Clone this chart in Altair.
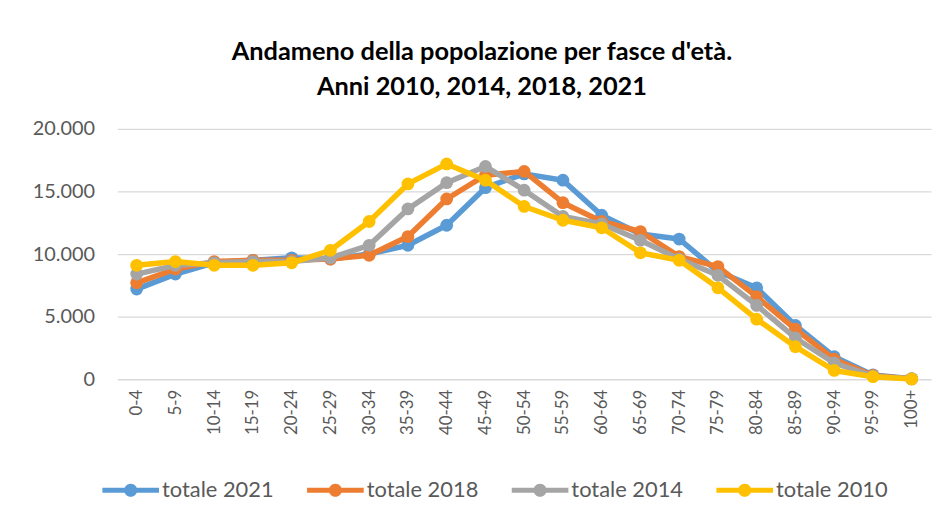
import altair as alt
import pandas as pd

ages = ["0-4", "5-9", "10-14", "15-19", "20-24", "25-29", "30-34", "35-39", "40-44",
        "45-49", "50-54", "55-59", "60-64", "65-69", "70-74", "75-79", "80-84",
        "85-89", "90-94", "95-99", "100+"]

t2021 = [7200, 8400, 9300, 9500, 9700, 9600, 10000, 10700, 12300, 15300, 16400,
         15900, 13100, 11600, 11200, 8600, 7300, 4300, 1800, 350, 40]
t2018 = [7700, 8800, 9400, 9500, 9500, 9600, 9900, 11400, 14400, 16300, 16600,
         14100, 12600, 11800, 9800, 9000, 6600, 4000, 1600, 300, 30]
t2014 = [8400, 9100, 9300, 9400, 9400, 9700, 10700, 13600, 15700, 17000, 15100,
         13000, 12400, 11100, 9600, 8300, 5900, 3300, 1300, 250, 30]
t2010 = [9100, 9400, 9100, 9100, 9300, 10300, 12600, 15600, 17200, 15900, 13800,
         12700, 12100, 10100, 9500, 7300, 4800, 2600, 700, 200, 20]

series_names = ["totale 2021", "totale 2018", "totale 2014", "totale 2010"]
series_values = [t2021, t2018, t2014, t2010]
series_colors = ["#5B9BD5", "#ED7D31", "#A5A5A5", "#FFC000"]

title_lines = ["Andameno della popolazione per fasce d'età.", "Anni 2010, 2014, 2018, 2021"]

rows = []
for name, vals in zip(series_names, series_values):
    for a, v in zip(ages, vals):
        rows.append({"age": a, "value": v, "serie": name})
df = pd.DataFrame(rows)

FONT = "Lato"
color_scale = alt.Scale(domain=series_names, range=series_colors)

legend_path = ("M-1,-0.09H1V0.09H-1Z "
               "M0.23,0A0.23,0.23,0,1,1,-0.23,0A0.23,0.23,0,1,1,0.23,0Z")

x_enc = alt.X("age:N", sort=ages, title=None,
              axis=alt.Axis(labelAngle=-90, labelFontSize=17, labelColor="#595959",
                            labelFont=FONT, ticks=False, domain=False,
                            labelPadding=10, grid=False))
y_enc = alt.Y("value:Q", title=None,
              scale=alt.Scale(domain=[0, 20000], nice=False),
              axis=alt.Axis(values=[0, 5000, 10000, 15000, 20000],
                            labelExpr="replace(format(datum.value, ','), ',', '.')",
                            labelFontSize=20, labelColor="#595959", labelFont=FONT,
                            ticks=False, domain=False, labelPadding=23,
                            gridColor="#D9D9D9", gridWidth=1.3))

layers = []
for i, name in enumerate(series_names):
    base = alt.Chart(df).transform_filter(alt.datum.serie == name)
    line = base.mark_line(strokeWidth=5.5, strokeCap="round", strokeJoin="round",
                          color=series_colors[i]).encode(x=x_enc, y=y_enc)
    pts = base.mark_point(filled=True, size=165, opacity=1).encode(
        x=x_enc, y=y_enc,
        fill=alt.Fill("serie:N", scale=color_scale,
                      legend=alt.Legend(title=None, orient="none", direction="horizontal",
                                        columns=4, legendX=-15, legendY=335,
                                        symbolType=legend_path, symbolSize=3249,
                                        symbolStrokeWidth=0, symbolOpacity=1,
                                        labelFontSize=22,
                                        labelFont=FONT, labelColor="#595959",
                                        labelOffset=3, columnPadding=33)),
    )
    layers += [line, pts]

chart = alt.layer(*layers).properties(
    width=819, height=252,
    autosize=alt.AutoSizeParams(type="none"),
    padding={"left": 110, "top": 120, "right": 8, "bottom": 135},
    title=alt.TitleParams(text=title_lines, anchor="start", align="center", dx=367,
                          frame="group",
                          fontSize=25.5, font=FONT, fontWeight="bold", color="#000000",
                          lineHeight=35, offset=19),
    background="white",
).configure_view(stroke=None)

chart.save("out.html", embed_options={"renderer": "svg", "actions": False})
